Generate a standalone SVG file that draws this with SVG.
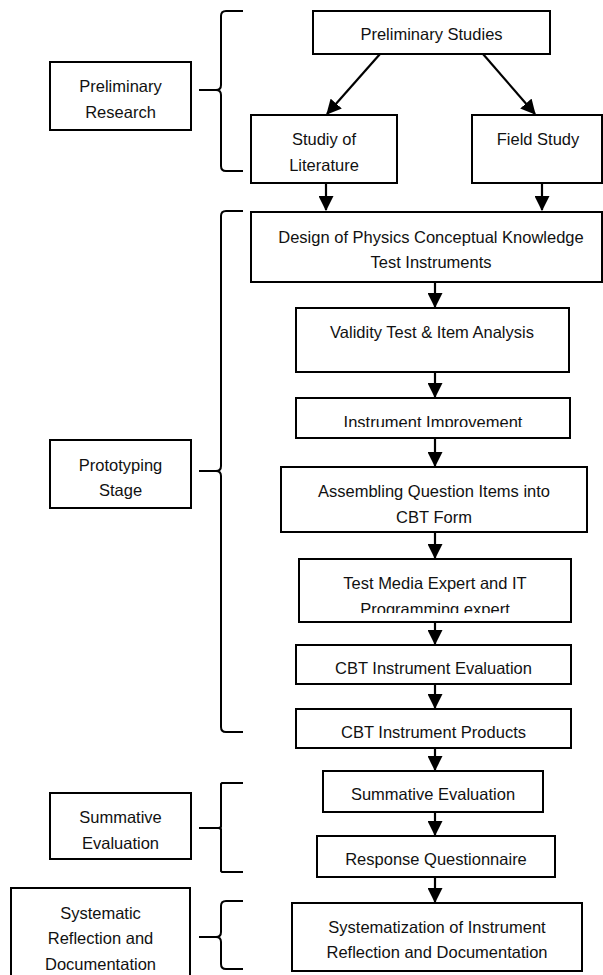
<svg xmlns="http://www.w3.org/2000/svg" width="603" height="975" viewBox="0 0 603 975">
<style>
.box{fill:#fff;stroke:#000;stroke-width:2}
.t{font-family:"Liberation Sans",Arial,sans-serif;font-size:16.5px;fill:#111;text-anchor:middle}
.con{stroke:#000;stroke-width:2.2;fill:none}
.br{stroke:#000;stroke-width:2;fill:none}
</style>
<defs>
<marker id="ah" markerUnits="userSpaceOnUse" markerWidth="15" markerHeight="15" refX="13" refY="7" orient="auto" viewBox="0 0 14 14">
<path d="M0,0 L14,7 L0,14 z" fill="#000"/>
</marker>
<clipPath id="clipImp"><rect x="296" y="398" width="274" height="29"/></clipPath>
<clipPath id="clipProg"><rect x="299" y="559" width="272" height="54"/></clipPath>
</defs>
<rect width="603" height="975" fill="#fff"/>

<g id="brackets">
<path class="br" d="M243,11 L226,11 Q221,11 221,16 L221,85 Q221,90 216,90 L199,90 M216,90 Q221,90 221,95 L221,166 Q221,171 226,171 L243,171"/>
<path class="br" d="M243,211 L226,211 Q221,211 221,216 L221,466 Q221,471 216,471 L199,471 M216,471 Q221,471 221,476 L221,727 Q221,732 226,732 L243,732"/>
<path class="br" d="M243,783 L222,783 L221,784 L221,827 L219,828 L199,828 M219,828 L221,829 L221,871 L222,872 L243,872"/>
<path class="br" d="M243,901 L226,901 Q221,901 221,906 L221,932 Q221,937 216,937 L199,937 M216,937 Q221,937 221,942 L221,964 Q221,969 226,969 L243,969"/>
</g>

<g id="label-preliminary-research">
<rect class="box" x="50" y="62" width="141" height="68"/>
<text class="t" x="120.5" y="91.5">Preliminary</text>
<text class="t" x="120.5" y="117.5">Research</text>
</g>
<g id="label-prototyping">
<rect class="box" x="50" y="440" width="141" height="68"/>
<text class="t" x="120.5" y="470.5">Prototyping</text>
<text class="t" x="120.5" y="495.5">Stage</text>
</g>
<g id="label-summative">
<rect class="box" x="50" y="793" width="141" height="66"/>
<text class="t" x="120.5" y="822.5">Summative</text>
<text class="t" x="120.5" y="848.5">Evaluation</text>
</g>
<g id="label-systematic">
<rect class="box" x="11" y="888" width="179" height="100"/>
<text class="t" x="100.5" y="918.5">Systematic</text>
<text class="t" x="100.5" y="943.5">Reflection and</text>
<text class="t" x="100.5" y="969.5">Documentation</text>
</g>

<g id="n-preliminary-studies">
<rect class="box" x="313" y="11" width="237" height="43"/>
<text class="t" x="431.5" y="40">Preliminary Studies</text>
</g>
<g id="n-literature">
<rect class="box" x="251" y="115" width="146" height="68"/>
<text class="t" x="324" y="144.5">Studiy of</text>
<text class="t" x="324" y="170.5">Literature</text>
</g>
<g id="n-field">
<rect class="box" x="472" y="115" width="130" height="68"/>
<text class="t" x="538" y="144.5">Field Study</text>
</g>
<g id="n-design">
<rect class="box" x="251" y="212" width="351" height="70"/>
<text class="t" x="431" y="242.5">Design of Physics Conceptual Knowledge</text>
<text class="t" x="431" y="267.5">Test Instruments</text>
</g>
<g id="n-validity">
<rect class="box" x="296" y="308" width="273" height="64"/>
<text class="t" x="432" y="337.5">Validity Test &amp; Item Analysis</text>
</g>
<g id="n-improvement">
<rect class="box" x="296" y="398" width="274" height="40"/>
<text class="t" x="433" y="427.5" clip-path="url(#clipImp)">Instrument Improvement</text>
</g>
<g id="n-assembling">
<rect class="box" x="281" y="467" width="306" height="65"/>
<text class="t" x="434" y="496.5">Assembling Question Items into</text>
<text class="t" x="434" y="522.5">CBT Form</text>
</g>
<g id="n-testmedia">
<rect class="box" x="299" y="559" width="272" height="63"/>
<text class="t" x="435" y="588.5">Test Media Expert and IT</text>
<text class="t" x="435" y="614.5" clip-path="url(#clipProg)">Programming expert</text>
</g>
<g id="n-cbteval">
<rect class="box" x="296" y="645" width="275" height="39"/>
<text class="t" x="433.5" y="673.5">CBT Instrument Evaluation</text>
</g>
<g id="n-cbtproducts">
<rect class="box" x="296" y="709" width="275" height="39"/>
<text class="t" x="433.5" y="737.5">CBT Instrument Products</text>
</g>
<g id="n-summative">
<rect class="box" x="323" y="771" width="220" height="41"/>
<text class="t" x="433" y="799.5">Summative Evaluation</text>
</g>
<g id="n-response">
<rect class="box" x="317" y="836" width="238" height="41"/>
<text class="t" x="436" y="864.5">Response Questionnaire</text>
</g>
<g id="n-systematization">
<rect class="box" x="292" y="903" width="290" height="68"/>
<text class="t" x="437" y="932.5">Systematization of Instrument</text>
<text class="t" x="437" y="957.5">Reflection and Documentation</text>
</g>

<g id="connectors">
<line class="con" x1="380" y1="54" x2="327" y2="114" marker-end="url(#ah)"/>
<line class="con" x1="483" y1="54" x2="535" y2="114" marker-end="url(#ah)"/>
<line class="con" x1="326" y1="183" x2="326" y2="210" marker-end="url(#ah)"/>
<line class="con" x1="542" y1="183" x2="542" y2="210" marker-end="url(#ah)"/>
<line class="con" x1="435" y1="282" x2="435" y2="307" marker-end="url(#ah)"/>
<line class="con" x1="435" y1="372" x2="435" y2="397" marker-end="url(#ah)"/>
<line class="con" x1="435" y1="438" x2="435" y2="466" marker-end="url(#ah)"/>
<line class="con" x1="435" y1="532" x2="435" y2="558" marker-end="url(#ah)"/>
<line class="con" x1="435" y1="622" x2="435" y2="644" marker-end="url(#ah)"/>
<line class="con" x1="435" y1="684" x2="435" y2="708" marker-end="url(#ah)"/>
<line class="con" x1="435" y1="748" x2="435" y2="770" marker-end="url(#ah)"/>
<line class="con" x1="435" y1="812" x2="435" y2="835" marker-end="url(#ah)"/>
<line class="con" x1="435" y1="877" x2="435" y2="902" marker-end="url(#ah)"/>
</g>
</svg>
